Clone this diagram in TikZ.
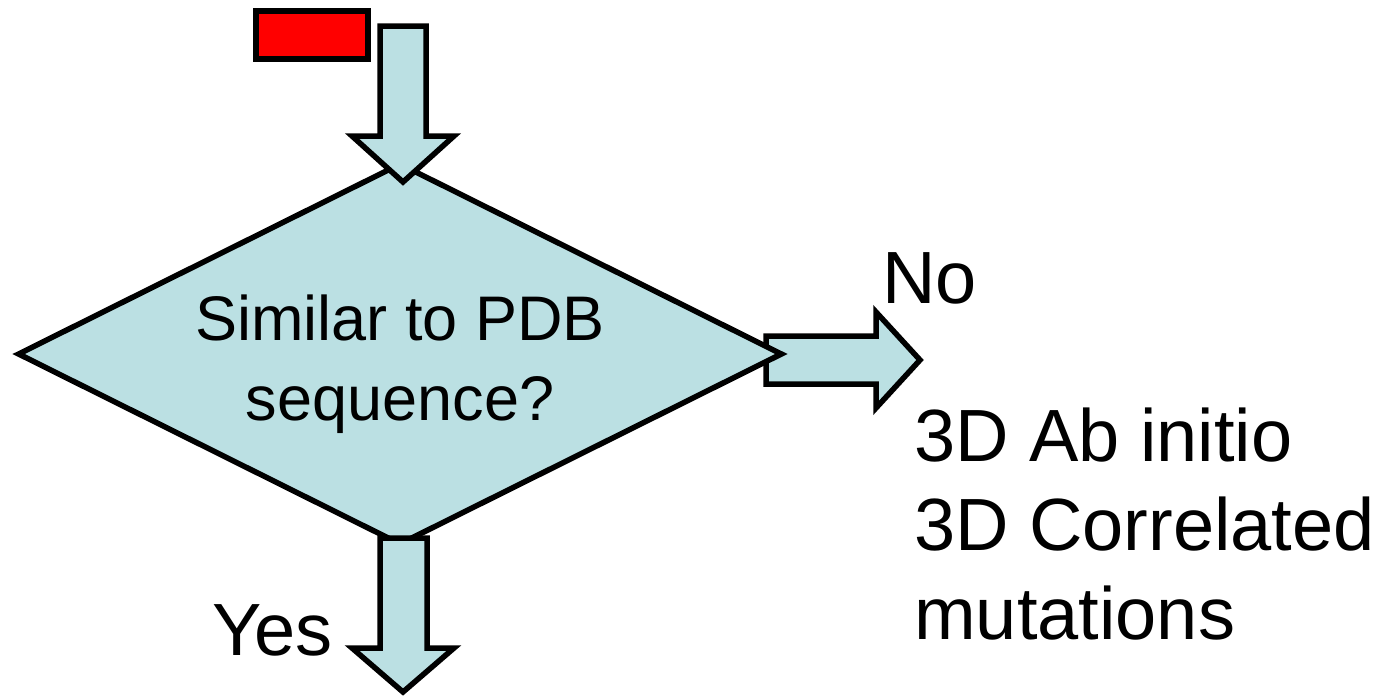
\documentclass[tikz,border=0pt]{standalone}
\usepackage{fontspec}
\setmainfont{Liberation Sans}
\usepackage{tikz}
\usetikzlibrary{shapes.geometric}
\definecolor{flowblue}{RGB}{187,224,227}

\begin{document}
\begin{tikzpicture}
      [x=1pt, y=-1pt,
      every node/.style={inner sep=0pt},
      blockarrow/.style={fill=flowblue, draw=black, line width=5.5pt, line join=miter},
      decision/.style={diamond, aspect=2, fill=flowblue, draw=black, line width=5.5pt,
        minimum width=765pt, minimum height=382pt},
      bigtext/.style={font=\fontsize{74}{89}\selectfont, align=left},
      ]
      \useasboundingbox (0,0) rectangle (1396,697);
      % "No" branch, sits under the diamond
      \draw[blockarrow] (766,336) -- (876,336) -- (876,312) -- (920,360)
        -- (876,408) -- (876,384) -- (766,384) -- cycle;
      \node[decision] (simpdb) at (400,354) {};
      \node[font=\fontsize{63}{80}\selectfont, align=center] (simtext) at (400,364)
        {Similar to PDB\\sequence?};
      % input and "Yes" branch
      \draw[blockarrow] (380,26) -- (426,26) -- (426,136) -- (454,136) -- (403,182)
        -- (352,136) -- (380,136) -- cycle;
      \draw[blockarrow] (380,538) -- (427,538) -- (427,648) -- (454,648) -- (403,692)
        -- (352,648) -- (380,648) -- cycle;
      \node[fill=red, draw=black, line width=5.5pt, minimum width=112pt, minimum height=48pt]
        (seq) at (312,35) {};
      \node[bigtext, anchor=base west] (no) at (882,303) {No};
      \node[bigtext, anchor=base west] (yes) at (212,655) {Yes};
      \node[bigtext, anchor=north west] (abinit) at (914,408)
        {3D Ab initio\\3D Correlated\\mutations};
\end{tikzpicture}
\end{document}
